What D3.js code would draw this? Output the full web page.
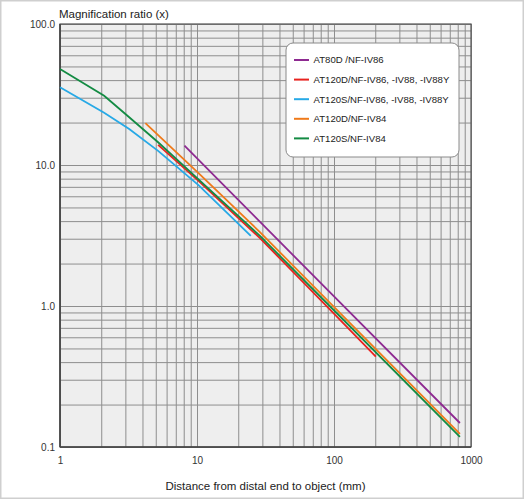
<!DOCTYPE html>
<html>
<head>
<meta charset="utf-8">
<script src="https://cdn.jsdelivr.net/npm/d3@7"></script>
<style>
  body { margin: 0; background: #fff; }
  svg { display: block; font-family: "Liberation Sans", Arial, Helvetica, sans-serif; }
  .grid line { stroke: #8e8e8e; stroke-width: 1; }
  .grid path { display: none; }
  .labels path, .labels line { display: none; }
  .labels text { fill: #333; font-size: 10px; }
  .line { fill: none; stroke-width: 1.8; }
</style>
</head>
<body>
<svg width="525" height="500"></svg>
<script>

// distances (mm) and magnification
var at80dDist = [8.1, 100, 830];
var at80dMag = [13.7, 1.17, 0.148];

var at120dDist = [5.2, 10.3, 28.8, 102, 202];
var at120dMag = [13.9, 7.68, 3.03, 0.866, 0.438];

var at120sDist = [1, 2.1, 3.2, 5.2, 10.3, 24.7];
var at120sMag = [35.6, 23.5, 18.0, 12.6, 7.17, 3.14];

var at120dIv84Dist = [4.2, 10.3, 28.8, 102, 830];
var at120dIv84Mag = [19.8, 8.73, 3.34, 0.966, 0.124];

var at120sIv84Dist = [1, 2.1, 3.2, 5.2, 10.3, 28.8, 102, 830];
var at120sIv84Mag = [48.0, 31.0, 21.8, 14.5, 7.88, 3.14, 0.914, 0.118];

var seriesNames = ["AT80D /NF-IV86", "AT120D/NF-IV86, -IV88, -IV88Y", "AT120S/NF-IV86, -IV88, -IV88Y",
                   "AT120D/NF-IV84", "AT120S/NF-IV84"];
var seriesColors = ["#8e2a91", "#e8231f", "#27a9e6", "#ef7a1a", "#138b43"];

var xTickLabels = [1, 10, 100, 1000];
var yTickLabels = [0.1, 1, 10, 100];

var series = [
  {dist: at80dDist, mag: at80dMag},
  {dist: at120dDist, mag: at120dMag},
  {dist: at120sDist, mag: at120sMag},
  {dist: at120dIv84Dist, mag: at120dIv84Mag},
  {dist: at120sIv84Dist, mag: at120sIv84Mag}
];

var margin = {top: 24, right: 54, bottom: 53, left: 60};

var svg = d3.select("svg");

var width = +svg.attr("width") - margin.left - margin.right;
var height = +svg.attr("height") - margin.top - margin.bottom;

// thin grey frame round the whole picture
svg.append("rect")
    .attr("x", 0.75).attr("y", 0.75)
    .attr("width", 522.5).attr("height", 497.5)
    .attr("fill", "none")
    .attr("stroke", "#cfcfcf")
    .attr("stroke-width", 1.5);

var g = svg.append("g")
    .attr("transform", "translate(" + margin.left + "," + margin.top + ")");

var x = d3.scaleLog()
    .domain([1, 1000])
    .range([0, width]);

var y = d3.scaleLog()
    .domain([0.1, 100])
    .range([height, 0]);

g.append("rect")
    .attr("width", width)
    .attr("height", height)
    .attr("fill", "#eeeeee");

// grid at every 1..9 of each decade
g.append("g")
    .attr("class", "grid")
    .attr("transform", "translate(0," + height + ")")
    .call(d3.axisBottom(x).tickValues(x.ticks()).tickSize(height).tickSizeOuter(0).tickFormat(""))
    .selectAll("line").attr("y2", -height);

g.append("g")
    .attr("class", "grid")
    .call(d3.axisLeft(y).tickValues(y.ticks()).tickSize(-width).tickSizeOuter(0).tickFormat(""));

// plot frame
g.append("rect")
    .attr("width", width)
    .attr("height", height)
    .attr("fill", "none")
    .attr("stroke", "#555")
    .attr("stroke-width", 1.2);

g.append("line")
    .attr("x1", 0).attr("x2", 0)
    .attr("y1", 0).attr("y2", height)
    .attr("stroke", "#444").attr("stroke-width", 1.6);

g.append("line")
    .attr("x1", 0).attr("x2", width)
    .attr("y1", height).attr("y2", height)
    .attr("stroke", "#444").attr("stroke-width", 1.6);

// tick labels
g.append("g")
    .attr("class", "labels")
    .attr("transform", "translate(0," + height + ")")
    .call(d3.axisBottom(x).tickValues(xTickLabels).tickSize(0).tickPadding(10).tickFormat(d3.format("d")));

g.append("g")
    .attr("class", "labels")
    .call(d3.axisLeft(y).tickValues(yTickLabels).tickSize(0).tickPadding(5).tickFormat(d3.format(".1f")));

var line = d3.line()
    .x(function(d) { return x(d[0]); })
    .y(function(d) { return y(d[1]); });

g.selectAll(".line")
    .data(series)
  .enter().append("path")
    .attr("class", "line")
    .attr("stroke", function(d, i) { return seriesColors[i]; })
    .attr("d", function(d) { return line(d3.zip(d.dist, d.mag)); });

// titles
svg.append("text")
    .attr("x", 59)
    .attr("y", 18)
    .attr("font-size", "11.5px")
    .attr("fill", "#222")
    .text("Magnification ratio (x)");

svg.append("text")
    .attr("x", margin.left + width / 2)
    .attr("y", 490)
    .attr("text-anchor", "middle")
    .attr("font-size", "11.5px")
    .attr("fill", "#222")
    .text("Distance from distal end to object (mm)");

// legend
var legend = svg.append("g")
    .attr("transform", "translate(286,43)");

legend.append("rect")
    .attr("width", 173)
    .attr("height", 114)
    .attr("rx", 7)
    .attr("fill", "#fff")
    .attr("stroke", "#8a8a8a")
    .attr("stroke-width", 1);

var item = legend.selectAll(".item")
    .data(seriesNames)
  .enter().append("g")
    .attr("class", "item")
    .attr("transform", function(d, i) { return "translate(0," + (17 + i * 19.6) + ")"; });

item.append("line")
    .attr("x1", 8).attr("x2", 23)
    .attr("stroke", function(d, i) { return seriesColors[i]; })
    .attr("stroke-width", 2);

item.append("text")
    .attr("x", 27.5)
    .attr("dy", "0.35em")
    .attr("font-size", "9.6px")
    .attr("fill", "#222")
    .text(function(d) { return d; });

</script>
</body>
</html>
